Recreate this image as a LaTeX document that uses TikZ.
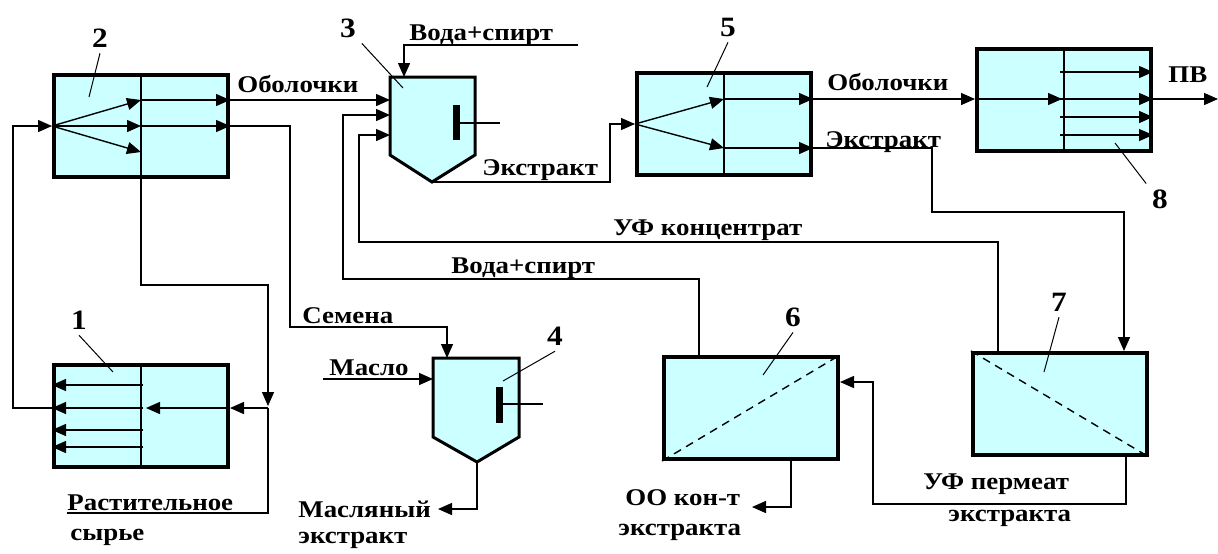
\documentclass[tikz,border=0pt]{standalone}
\usepackage{fontspec}
\setmainfont{Liberation Serif}[FakeStretch=1.12]
\usetikzlibrary{arrows.meta}
\definecolor{cellfill}{HTML}{CCFFFF}
\tikzset{
  app/.style={draw,line width=2pt,fill=cellfill,minimum width=87pt,minimum height=51pt,inner sep=0pt},
  vessel/.style={draw,line width=1.5pt,fill=cellfill},
  pipe/.style={line width=.7pt},
  flow/.style={pipe,-{Triangle[length=7pt,width=6pt]}},
  tag/.style={font=\bfseries\fontsize{12}{14}\selectfont,inner sep=0pt},
  num/.style={font=\bfseries\fontsize{14}{16}\selectfont,inner sep=0pt,outer sep=3pt},
  lead/.style={line width=.5pt}
}
\begin{document}
\begin{tikzpicture}[x=.5pt,y=-.5pt,line join=miter]
 \useasboundingbox (0,0) rectangle (1218,553);
 % apparatus
 \node[app] (b2) at (141,126) {};  \node[app] (b1) at (141,416) {};
 \node[app] (b5) at (724,124) {};  \node[app] (b8) at (1064,100) {};
 \node[app] (b6) at (751,408) {};  \node[app] (b7) at (1060,404) {};
 \draw[vessel] (390,77) coordinate (v3) -- (475,77) -- (475,155) -- (432,182) coordinate (v3o) -- (390,155) -- cycle;
 \draw[vessel] (433,358) coordinate (v4) -- (519,358) -- (519,437) -- (477,462) coordinate (v4o) -- (433,437) -- cycle;
 % inside the boxes
 \draw[pipe] (b2.north) -- (b2.south);
 \foreach \y in {100,126,152} \draw[flow] (b2.west) -- (141,\y);
 \foreach \y in {100,126} \draw[flow] (141,\y) -- (b2.east |- 0,\y);
 \draw[pipe] (b1.north) -- (b1.south);
 \foreach \y in {385,408,430,447} \draw[flow] (143,\y) -- (b1.west |- 0,\y);
 \draw[flow] (b1.east |- 0,408) -- (146,408);
 \draw[pipe] (b5.north) -- (b5.south);
 \foreach \y in {99,148} {\draw[flow] (b5.west) -- (724,\y); \draw[flow] (724,\y) -- (b5.east |- 0,\y);}
 \draw[pipe] (b8.north) -- (b8.south);
 \draw[flow] (b8.west |- 0,99) -- (1062,99);
 \foreach \y in {72,99,117,135} \draw[flow] (1060,\y) -- (b8.east |- 0,\y);
 \draw[pipe,dash pattern=on 4pt off 3pt] (b6.south west) -- (b6.north east);
 \draw[pipe,dash pattern=on 4pt off 3pt] (b7.north west) -- (b7.south east);
 \draw[line width=3.5pt] (456,105) -- (456,140); \draw[pipe] (456,123) -- (500,123);
 \draw[line width=3.5pt] (499,387) -- (499,423); \draw[pipe] (499,404) -- (543,404);
 % streams
 \draw[flow] (b1.west |- 0,408) -- (13,408) -- (13,126) -- (b2.west);
 \draw[flow] (b2.east |- 0,100) -- (v3 |- 0,100);
 \draw[flow] (b2.east |- 0,126) -- (290,126) -- (290,327) -- (447,327) -- (v4 -| 447,0);
 \draw[flow] (b2.south) -- (141,285) -- (268,285) -- (268,406);
 \draw[pipe] (67,513) coordinate (raw) -- (268,513) -- (268,408) coordinate (j1);
 \draw[flow] (j1) -- (b1.east |- j1);
 \draw[flow] (578,45) coordinate (ws) -- (404,45) -- (v3 -| 404,0);
 \draw[flow] (b6.north -| 699,0) -- (699,279) -- (343,279) -- (343,115) -- (v3 |- 0,115);
 \draw[flow] (b7.north -| 998,0) -- (998,242) -- (359,242) -- (359,135) -- (v3 |- 0,135);
 \draw[flow] (v3o) -- (610,182) -- (610,124) -- (b5.west);
 \draw[flow] (323,379) coordinate (oil) -- (v4 |- 0,379);
 \draw[flow] (v4o) -- (477,509) -- (438,509) coordinate (oilx);
 \draw[flow] (b5.east |- 0,99) -- (b8.west |- 0,99);
 \draw[flow] (b8.east |- 0,99) -- (1218,99) coordinate (pv);
 \draw[flow] (b5.east |- 0,148) -- (932,148) -- (932,212) -- (1124,212) -- (b7.north -| 1124,0);
 \draw[flow] (b7.south -| 1126,0) -- (1126,504) -- (873,504) -- (873,382) -- (b6.east |- 0,382);
 \draw[flow] (b6.south -| 791,0) -- (791,507) -- (752,507) coordinate (oox);
 % labels
 \node[tag,anchor=base west] (tob2) at (237,92) {Оболочки};
 \node[tag,anchor=base west] (tws1) at (409,40) {Вода+спирт};
 \node[tag,anchor=base west] (tex3) at (482,175) {Экстракт};
 \node[tag,anchor=base west] (tob5) at (827,90) {Оболочки};
 \node[tag,anchor=base west] (tex5) at (825,147) {Экстракт};
 \node[tag,anchor=base west] (tpv) at (1168,82) {ПВ};
 \node[tag,anchor=base west] (tuf) at (613,235) {УФ концентрат};
 \node[tag,anchor=base west] (tws2) at (451,273) {Вода+спирт};
 \node[tag,anchor=base west] (tsem) at (302,323) {Семена};
 \node[tag,anchor=base west] (tmas) at (329,375) {Масло};
 \node[tag,anchor=base west] (traw) at (67,510) {Растительное};
 \node[tag,anchor=base west] (traw2) at (70,540) {сырье};
 \node[tag,anchor=base west] (toil) at (298,517) {Масляный};
 \node[tag,anchor=base west] (toil2) at (298,543) {экстракт};
 \node[tag,anchor=base west] (too) at (625,505) {ОО кон-т};
 \node[tag,anchor=base west] (too2) at (618,535) {экстракта};
 \node[tag,anchor=base west] (tper) at (923,489) {УФ пермеат};
 \node[tag,anchor=base west] (tper2) at (948,521) {экстракта};
 % numbers
 \node[num] (n1) at (79,320) {1}; \draw[lead] (n1.south) -- (113,372);
 \node[num] (n2) at (100,38) {2}; \draw[lead] (n2.south) -- (89,97);
 \node[num] (n3) at (348,28) {3}; \draw[lead] (n3.south east) -- (403,88);
 \node[num] (n4) at (555,336) {4}; \draw[lead] (n4.south) -- (503,381);
 \node[num] (n5) at (728,27) {5}; \draw[lead] (n5.south) -- (707,87);
 \node[num] (n6) at (793,317) {6}; \draw[lead] (n6.south) -- (763,375);
 \node[num] (n7) at (1059,302) {7}; \draw[lead] (n7.south) -- (1044,372);
 \node[num] (n8) at (1160,199) {8}; \draw[lead] (n8.north west) -- (1115,143);
\end{tikzpicture}
\end{document}
